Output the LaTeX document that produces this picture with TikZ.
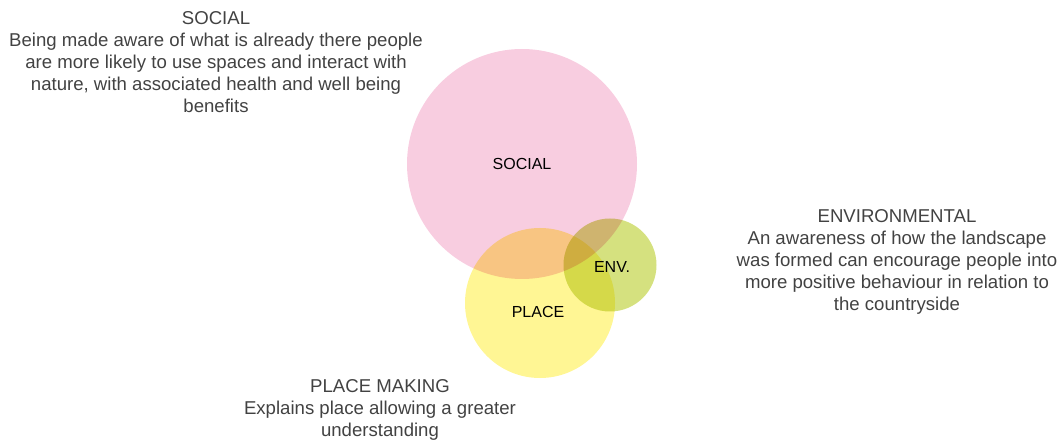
\documentclass[tikz,border=0pt]{standalone}
\usepackage{fontspec}
\setmainfont{Liberation Sans}
\usetikzlibrary{positioning}
\definecolor{socialpink}{HTML}{F8CDE0}
\definecolor{placeyellow}{HTML}{FFF694}
\definecolor{envgreen}{HTML}{D5E17F}
\definecolor{notegray}{HTML}{424242}
\tikzstyle{venn} = [circle, inner sep=0pt, blend mode=multiply, text=black, font=\fontsize{16}{19}\selectfont]
\tikzstyle{note} = [align=center, text=notegray, font=\fontsize{18.6}{22}\selectfont]

\begin{document}
\begin{tikzpicture}[x=1pt, y=-1pt]
    % keep the page the size of the reference
    \path[use as bounding box] (0,0) rectangle (1062,443);

    % the three overlapping sets
    \node [venn, fill=socialpink, minimum size=230pt] (social) at (522,164) {};
    \node [venn, fill=placeyellow, minimum size=150pt] (place) at (540,303) {};
    \node [venn, fill=envgreen, minimum size=93pt] (env) at (610,265) {};

    % labels inside the circles
    \node [venn] (sociallbl) at (social.center) {SOCIAL};
    \node [venn] (placelbl) at (538,312) {PLACE};
    \node [venn] (envlbl) at (612,267) {ENV.};

    % explanations round the outside
    \node [note] (socialnote) at (216,62) {SOCIAL\\Being made aware of what is already there people\\are more likely to use spaces and interact with\\nature, with associated health and well being\\benefits};
    \node [note] (envnote) at (897,262) {ENVIRONMENTAL\\An awareness of how the landscape\\was formed can encourage people into\\more positive behaviour in relation to\\the countryside};
    \node [note] (placenote) at (380,410) {PLACE MAKING\\Explains place allowing a greater\\understanding};
\end{tikzpicture}
\end{document}
